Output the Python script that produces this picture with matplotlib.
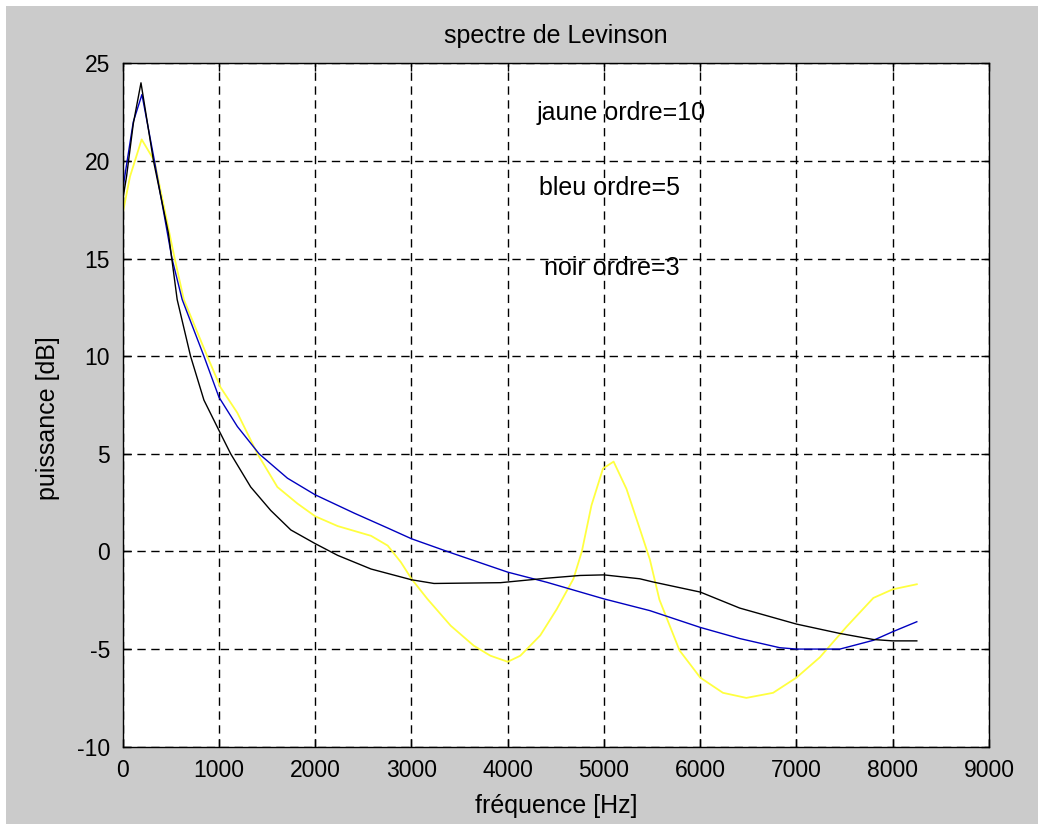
import matplotlib
matplotlib.use("Agg")
import matplotlib.pyplot as plt
from matplotlib.patches import Rectangle

# spectre AR (Levinson) pour trois ordres
f_ordre3 = [0, 40, 110, 190, 320, 475, 566, 705, 844, 1000, 1122, 1330, 1538, 1747,
            2000, 2233, 2580, 3000, 3234, 3924, 4407, 4752, 5000, 5372, 5507, 6000,
            6410, 7000, 7451, 7799, 8000, 8250]
p_ordre3 = [18.0, 19.2, 21.9, 24.0, 20.0, 16.3, 12.9, 10.0, 7.75, 6.2, 5.0, 3.3, 2.1, 1.1,
            0.4, -0.2, -0.9, -1.45, -1.64, -1.6, -1.37, -1.23, -1.2, -1.4, -1.56, -2.08,
            -2.9, -3.72, -4.2, -4.51, -4.58, -4.58]

f_ordre5 = [0, 40, 110, 200, 330, 512, 618, 844, 1000, 1191, 1417, 1712, 2000, 2406,
            2753, 3000, 3400, 4000, 4407, 5000, 5476, 6000, 6410, 6826, 7000, 7451,
            7799, 8000, 8250]
p_ordre5 = [18.5, 19.8, 22.0, 23.4, 20.0, 15.0, 12.9, 10.0, 7.9, 6.4, 5.0, 3.75, 2.9, 1.96,
            1.2, 0.65, -0.05, -1.06, -1.58, -2.43, -3.03, -3.89, -4.46, -4.93, -5.0, -5.0,
            -4.55, -4.11, -3.6]

f_ordre10 = [0, 76, 197, 330, 540, 635, 878, 1017, 1191, 1400, 1607, 1816, 2000, 2233,
             2580, 2753, 2890, 3000, 3165, 3407, 3648, 3820, 4000, 4131, 4338, 4510,
             4683, 4770, 4870, 4990, 5100, 5234, 5372, 5476, 5576, 5785, 6000, 6236,
             6479, 6757, 7000, 7243, 7521, 7799, 8000, 8250]
p_ordre10 = [17.3, 19.2, 21.1, 20.0, 15.0, 12.9, 10.0, 8.4, 7.1, 5.0, 3.3, 2.45, 1.8, 1.3,
             0.8, 0.3, -0.55, -1.4, -2.43, -3.8, -4.83, -5.34, -5.65, -5.34, -4.3, -2.95,
             -1.4, 0.0, 2.36, 4.25, 4.6, 3.2, 1.16, -0.4, -2.47, -5.07, -6.46, -7.24,
             -7.5, -7.24, -6.46, -5.42, -3.85, -2.38, -1.94, -1.68]

xticks = [0, 1000, 2000, 3000, 4000, 5000, 6000, 7000, 8000, 9000]
yticks = [-10, -5, 0, 5, 10, 15, 20, 25]

notes = ["jaune ordre=10", "bleu ordre=5", "noir ordre=3"]
notes_x = [4300, 4330, 4380]
notes_y = [22.45, 18.6, 14.5]

plt.rcParams['font.family'] = ['Liberation Sans', 'DejaVu Sans']
plt.rcParams['axes.unicode_minus'] = False

fig = plt.figure(figsize=(10.38, 8.24), dpi=100, facecolor='#cbcbcb')
ax = fig.add_axes([0.1182, 0.0938, 0.8346, 0.8294])

ax.plot(f_ordre10, p_ordre10, color='#ffff40', lw=1.3)
ax.plot(f_ordre5, p_ordre5, color='#0000c0', lw=1.0)
ax.plot(f_ordre3, p_ordre3, color='black', lw=1.0)

for t, x, y in zip(notes, notes_x, notes_y):
    ax.text(x, y, t, fontsize=18, va='center', ha='left')

ax.set_xlim(0, 9000)
ax.set_ylim(-10, 25)
ax.set_xticks(xticks)
ax.set_yticks(yticks)
ax.tick_params(direction='in', length=6, width=1, top=True, right=True,
               labelsize=16.5, pad=9)
ax.grid(True, color='black', linestyle=(0, (6, 4)), linewidth=1.0)
for s in ax.spines.values():
    s.set_linewidth(1.0)

ax.set_xlabel("fréquence [Hz]", fontsize=18)
ax.xaxis.set_label_coords(0.5, -0.087)
ax.xaxis.label.set_va('center')
ax.set_ylabel("puissance [dB]", fontsize=18)
ax.yaxis.set_label_coords(-0.086, 0.481)
ax.yaxis.label.set_va('center')
ax.text(0.5, 1.04, "spectre de Levinson", transform=ax.transAxes,
        fontsize=18, ha='center', va='center')

# bordure blanche en haut et a gauche
fig.patches.append(Rectangle((0, 1 - 6 / 824), 1, 6 / 824, transform=fig.transFigure,
                             facecolor='white', edgecolor='none'))
fig.patches.append(Rectangle((0, 0), 6 / 1038, 1, transform=fig.transFigure,
                             facecolor='white', edgecolor='none'))

fig.savefig("out.png", dpi=100, facecolor=fig.get_facecolor())
